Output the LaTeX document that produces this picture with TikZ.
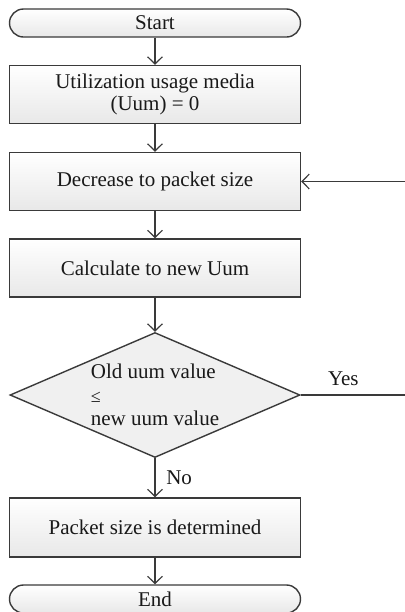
\documentclass[tikz,border=0pt]{standalone}
\usepackage{fontspec}
\setmainfont{Liberation Serif}
\usetikzlibrary{shapes.geometric,arrows.meta}
\definecolor{linegray}{HTML}{3A3A3A}
\tikzset{every node/.style={font=\fontsize{10.5}{11.3}\selectfont, text=black!90}}
\tikzset{every edge/.style={draw = linegray, line width = 0.6pt, -{Straight Barb[length=3.6pt,width=7.4pt]}}}
\tikzset{block/.style={draw = linegray, line width = 0.7pt, top color = white, bottom color = black!9,
    minimum width = 145.5pt, minimum height = 29pt, align = center, inner sep = 0pt}}
\tikzset{terminal/.style={block, minimum height = 14pt, rounded corners = 7pt}}
\tikzset{decision/.style={draw = linegray, line width = 0.7pt, fill = black!6, shape = diamond,
    aspect = 2.32, minimum width = 145pt, minimum height = 62.5pt, align = left, inner sep = 0pt}}

\begin{document}
\begin{tikzpicture}
  \useasboundingbox (-77.5pt,11.5pt) rectangle (125pt,-294.5pt);

  \node[terminal] (start) {Start};
  \node[block, node distance = 35.75pt, below of = start] (init) {Utilization usage media\\(Uum) = 0};
  \node[block, node distance = 43.5pt, below of = init] (decrease) {Decrease to packet size};
  \node[block, node distance = 43.25pt, below of = decrease] (calc) {Calculate to new Uum};
  \node[decision, node distance = 63.5pt, below of = calc] (check) {Old uum value\\[0.5pt]{\small ≤}\\[0.5pt]new uum value};
  \node[block, node distance = 66.25pt, below of = check, minimum height = 29.5pt] (done) {Packet size is determined};
  \node[terminal, node distance = 35.75pt, below of = done] (end) {End};

  % loop back on the right, its corner lies past the page edge
  \coordinate (corner) at (130pt,0 |- check.east);

  \path (start) edge (init);
  \path (init) edge (decrease);
  \path (decrease) edge (calc);
  \path (calc) edge (check);
  \path (check) edge node[right, xshift = 2pt] {No} (done);
  \path (done) edge (end);

  \draw[draw = linegray, line width = 0.6pt] (check.east) -- node[above, xshift = -7.25pt, yshift = 1pt] {Yes} (corner);
  \path (corner) edge[-] (corner |- decrease.east);
  \path (corner |- decrease.east) edge (decrease.east);
\end{tikzpicture}
\end{document}
